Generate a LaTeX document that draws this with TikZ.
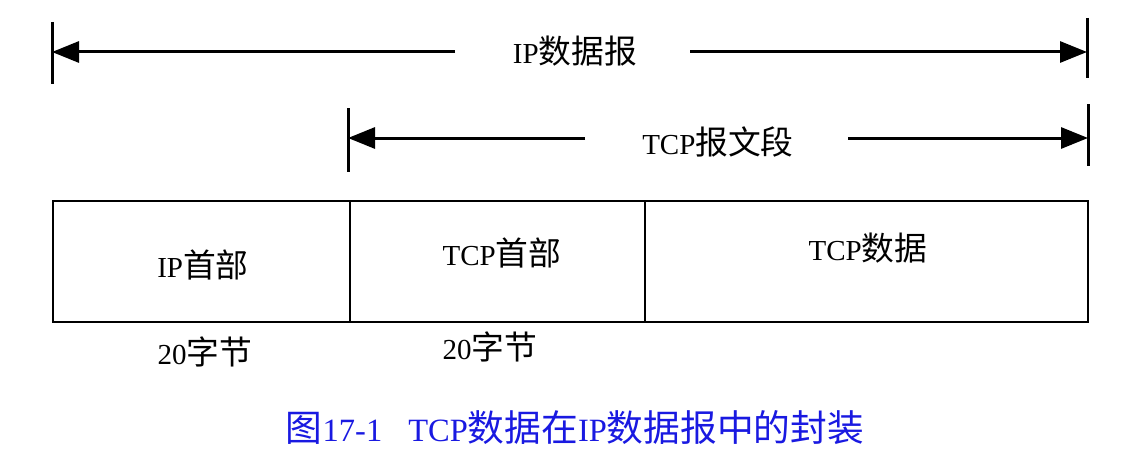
\documentclass[tikz,border=0pt]{standalone}
\usepackage{fontspec}
\setmainfont{Liberation Serif}
\newfontfamily\cjk[Scale=1.13]{Noto Sans CJK SC}
\usetikzlibrary{arrows.meta}
\definecolor{capblue}{RGB}{25,25,225}
\newcommand\zh[1]{{\cjk #1}}
\begin{document}
\begin{tikzpicture}[x=1pt,y=-1pt,
  dimline/.style={line width=3pt,-{Triangle[length=27pt,width=21pt]}},
  tickline/.style={line width=3pt},
  boxline/.style={line width=2.8pt},
  lbl/.style={font=\fontsize{29}{33}\selectfont, inner sep=0pt},
  captext/.style={font=\fontsize{32.5}{36}\selectfont, text=capblue, inner sep=0pt}]
\useasboundingbox (0,0) rectangle (1140,460);
% IP datagram dimension
\coordinate (d1l) at (52,52);
\coordinate (d1r) at (1087,52);
\coordinate (d1a) at (455,52);
\coordinate (d1b) at (690,52);
\draw[tickline] (52,22) -- (52,84);
\draw[tickline] (1087,18) -- (1087,78);
\draw[dimline] (d1a) -- (d1l);
\draw[dimline] (d1b) -- (d1r);
\node[lbl] (ipdg) at (575,51) {IP\zh{数据报}};
% TCP segment dimension
\coordinate (d2l) at (348,138);
\coordinate (d2r) at (1088,138);
\coordinate (d2a) at (585,138);
\coordinate (d2b) at (848,138);
\draw[tickline] (348,108) -- (348,172);
\draw[tickline] (1088,104) -- (1088,166);
\draw[dimline] (d2a) -- (d2l);
\draw[dimline] (d2b) -- (d2r);
\node[lbl] (tcpseg) at (718,142) {TCP\zh{报文段}};
% fields
\draw[boxline] (53,201) rectangle (350,322);
\draw[boxline] (350,201) rectangle (645,322);
\draw[boxline] (645,201) rectangle (1088,322);
\node[lbl] (iph) at (203,265) {IP\zh{首部}};
\node[lbl] (tcph) at (502,253) {TCP\zh{首部}};
\node[lbl] (tcpd) at (868,248) {TCP\zh{数据}};
\node[lbl] (ipn) at (205,352) {20\zh{字节}};
\node[lbl] (tcpn) at (490,347) {20\zh{字节}};
\node[captext] (caption) at (575,428) {\zh{图}17-1\hspace{0.8em}TCP\zh{数据在}IP\zh{数据报中的封装}};
\end{tikzpicture}
\end{document}
